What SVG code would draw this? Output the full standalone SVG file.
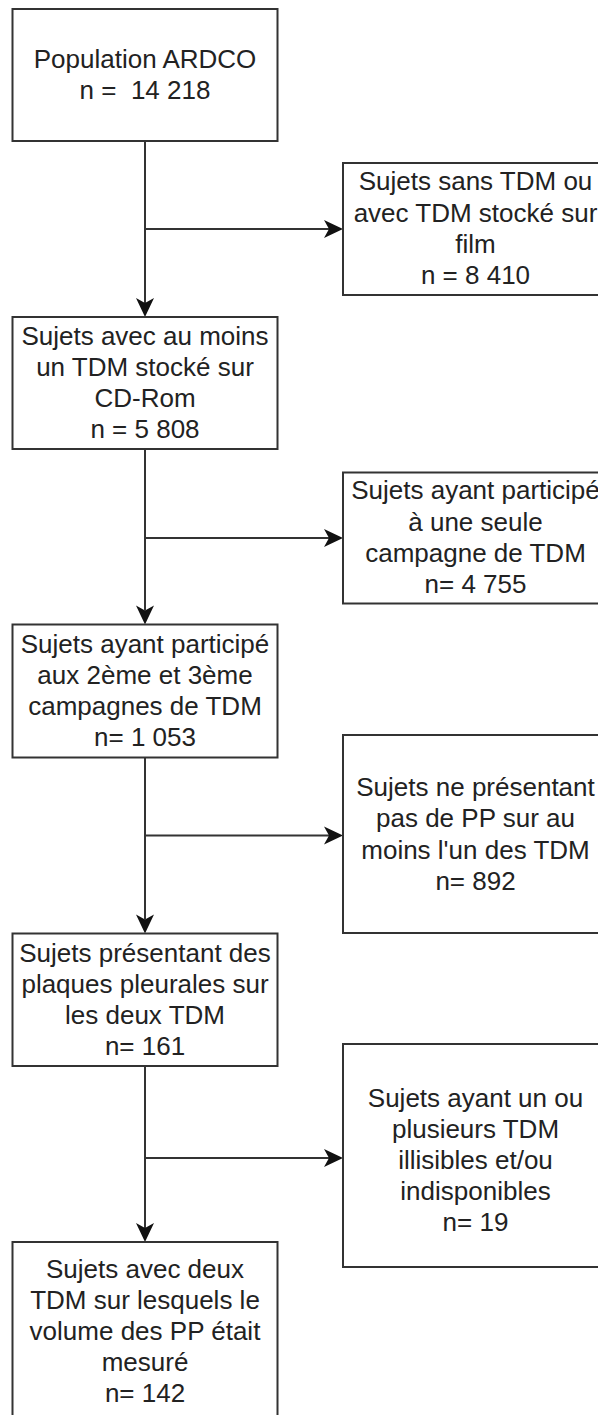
<svg xmlns="http://www.w3.org/2000/svg" width="598" height="1415" viewBox="0 0 598 1415">
<style>
.box{fill:#fff;stroke:#333;stroke-width:2}
.t{font-family:"Liberation Sans",Arial,sans-serif;font-size:26px;fill:#222;text-anchor:middle;white-space:pre}
.c{fill:none;stroke:#333;stroke-width:2}
</style>
<defs>
<marker id="arr" markerUnits="userSpaceOnUse" markerWidth="22" markerHeight="22" viewBox="0 0 22 22" refX="6" refY="11" orient="auto">
<path d="M1,2 L20,11 L1,20 L6,11 Z" fill="#111" stroke="none"/>
</marker>
</defs>
<rect width="598" height="1415" fill="#fff"/>
<g id="connectors">
<path class="c" d="M145,141 V303" marker-end="url(#arr)"/>
<path class="c" d="M145,229 H329" marker-end="url(#arr)"/>
<path class="c" d="M145,449 V610.5" marker-end="url(#arr)"/>
<path class="c" d="M145,538 H329" marker-end="url(#arr)"/>
<path class="c" d="M145,757.5 V919.5" marker-end="url(#arr)"/>
<path class="c" d="M145,835.5 H329" marker-end="url(#arr)"/>
<path class="c" d="M145,1066 V1228" marker-end="url(#arr)"/>
<path class="c" d="M145,1158 H329" marker-end="url(#arr)"/>
</g>
<g id="n1">
<rect class="box" x="12.5" y="9" width="265" height="132"/>
<text class="t" x="145" y="68">Population ARDCO</text>
<text class="t" x="145" y="99" xml:space="preserve">n =  14 218</text>
</g>
<g id="n2">
<rect class="box" x="343" y="163" width="265" height="132"/>
<text class="t" x="475.5" y="190">Sujets sans TDM ou</text>
<text class="t" x="475.5" y="221.5">avec TDM stocké sur</text>
<text class="t" x="475.5" y="252.5">film</text>
<text class="t" x="475.5" y="284">n = 8 410</text>
</g>
<g id="n3">
<rect class="box" x="12.5" y="317" width="265" height="132"/>
<text class="t" x="145" y="344.5">Sujets avec au moins</text>
<text class="t" x="145" y="375.5">un TDM stocké sur</text>
<text class="t" x="145" y="407">CD-Rom</text>
<text class="t" x="145" y="438">n = 5 808</text>
</g>
<g id="n4">
<rect class="box" x="343" y="472.5" width="265" height="131"/>
<text class="t" x="475.5" y="499">Sujets ayant participé</text>
<text class="t" x="475.5" y="530.5">à une seule</text>
<text class="t" x="475.5" y="561.5">campagne de TDM</text>
<text class="t" x="475.5" y="593">n= 4 755</text>
</g>
<g id="n5">
<rect class="box" x="12.5" y="624.5" width="265" height="133"/>
<text class="t" x="145" y="652.5">Sujets ayant participé</text>
<text class="t" x="145" y="683.5">aux 2ème et 3ème</text>
<text class="t" x="145" y="715">campagnes de TDM</text>
<text class="t" x="145" y="746">n= 1 053</text>
</g>
<g id="n6">
<rect class="box" x="343" y="735" width="265" height="198"/>
<text class="t" x="475.5" y="795.5">Sujets ne présentant</text>
<text class="t" x="475.5" y="827">pas de PP sur au</text>
<text class="t" x="475.5" y="858.5">moins l'un des TDM</text>
<text class="t" x="475.5" y="890">n= 892</text>
</g>
<g id="n7">
<rect class="box" x="12.5" y="933.5" width="265" height="132.5"/>
<text class="t" x="145" y="961.5">Sujets présentant des</text>
<text class="t" x="145" y="992.5">plaques pleurales sur</text>
<text class="t" x="145" y="1024">les deux TDM</text>
<text class="t" x="145" y="1055">n= 161</text>
</g>
<g id="n8">
<rect class="box" x="343" y="1044" width="265" height="223"/>
<text class="t" x="475.5" y="1107">Sujets ayant un ou</text>
<text class="t" x="475.5" y="1138">plusieurs TDM</text>
<text class="t" x="475.5" y="1169">illisibles et/ou</text>
<text class="t" x="475.5" y="1200">indisponibles</text>
<text class="t" x="475.5" y="1231">n= 19</text>
</g>
<g id="n9">
<rect class="box" x="12.5" y="1242" width="265" height="200"/>
<text class="t" x="145" y="1278">Sujets avec deux</text>
<text class="t" x="145" y="1309">TDM sur lesquels le</text>
<text class="t" x="145" y="1340">volume des PP était</text>
<text class="t" x="145" y="1371">mesuré</text>
<text class="t" x="145" y="1402">n= 142</text>
</g>
</svg>
